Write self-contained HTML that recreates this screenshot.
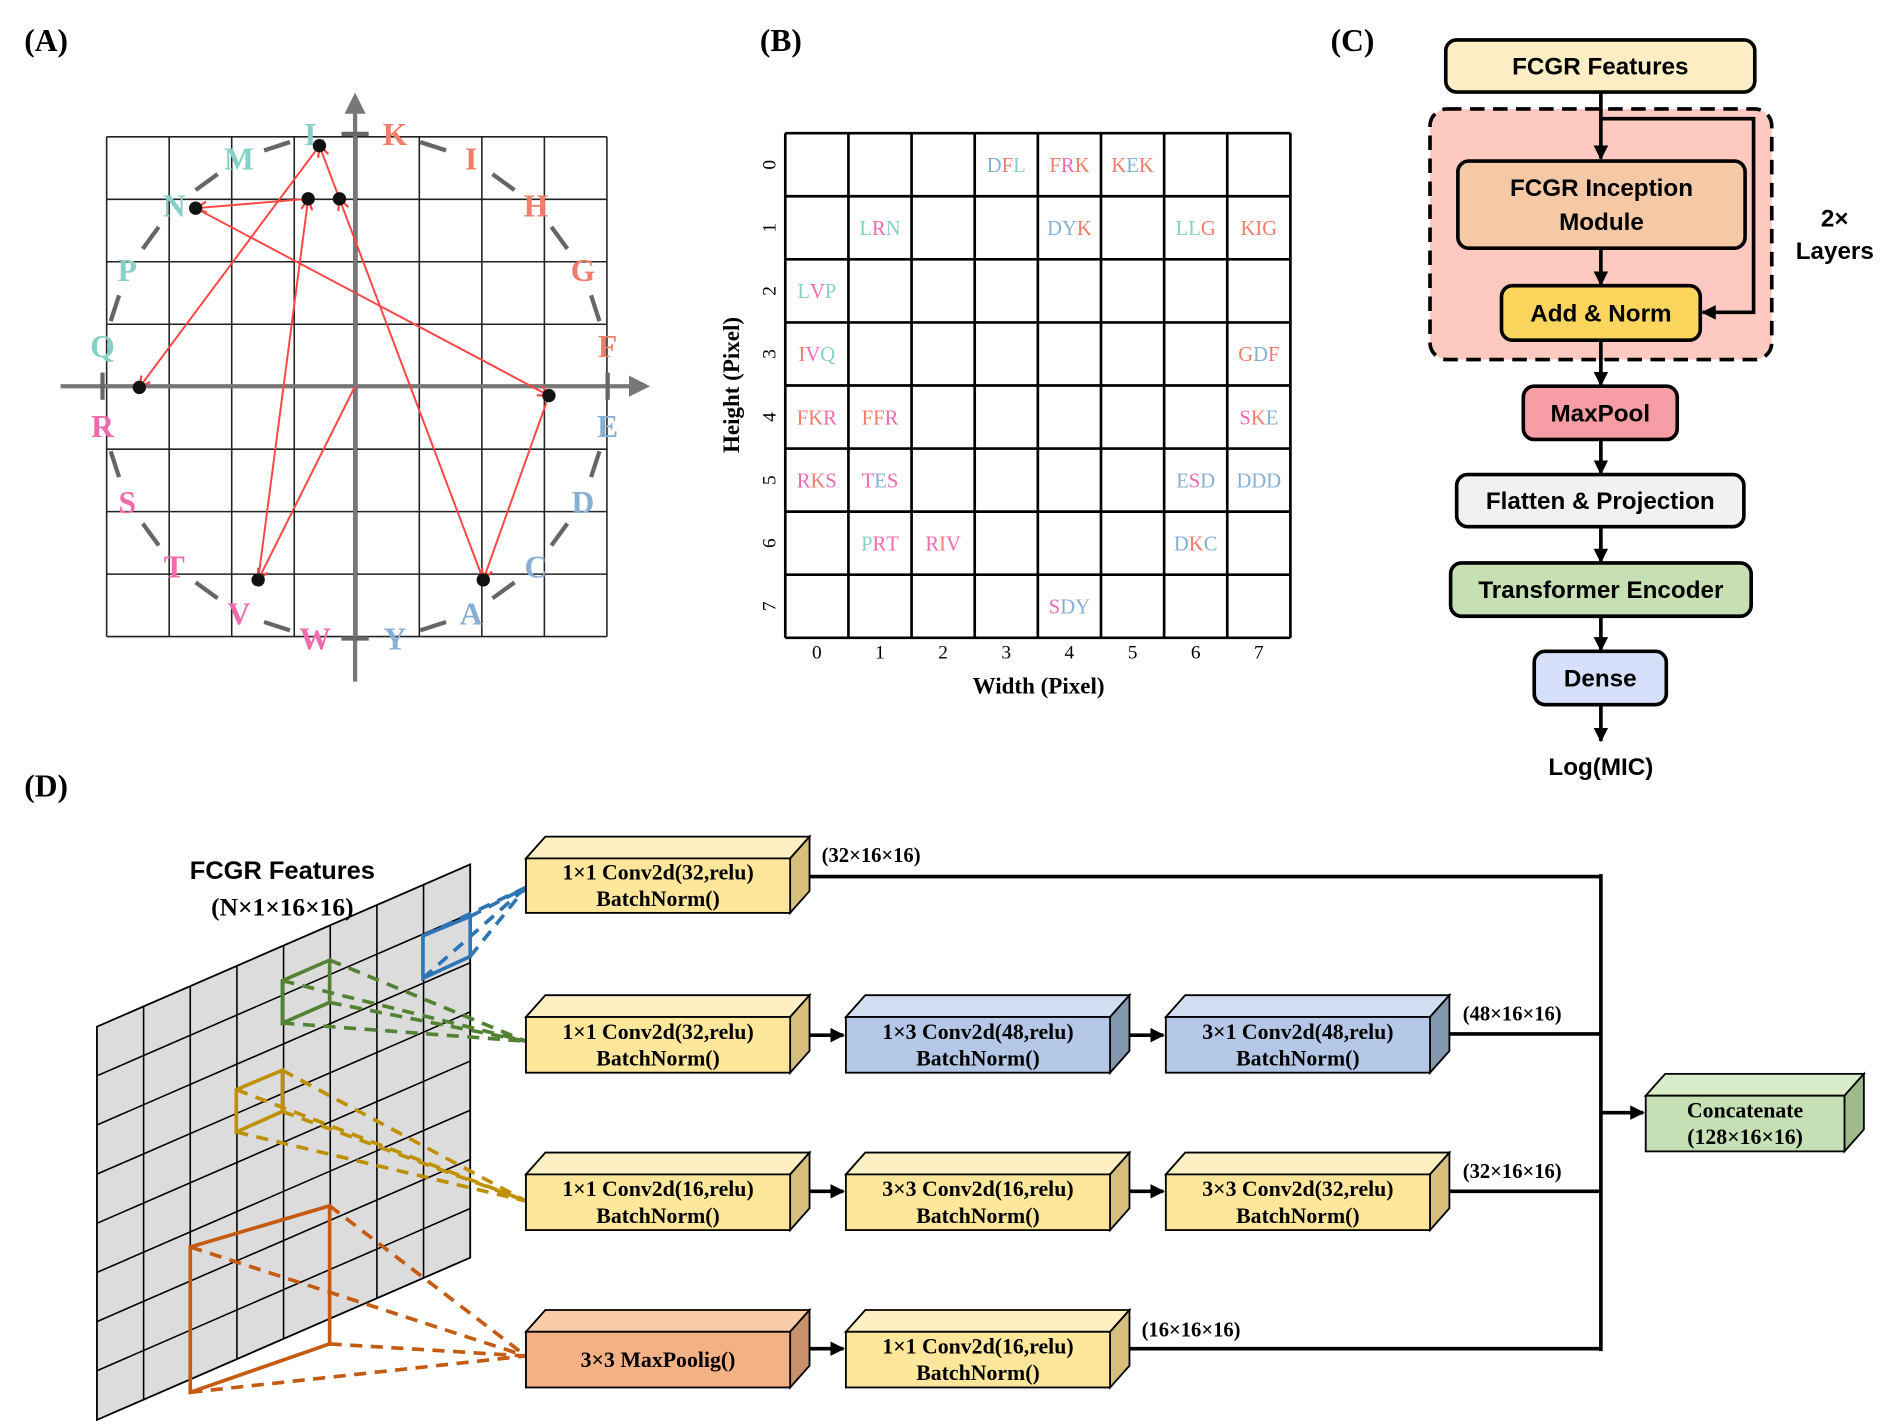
<!DOCTYPE html>
<html><head><meta charset="utf-8"><style>
html,body{margin:0;padding:0;background:#fff;}
svg{display:block;}
.ser{font-family:"Liberation Serif",serif;}
.san{font-family:"Liberation Sans",sans-serif;}
</style></head><body>
<svg id="fig" width="1899" height="1425" viewBox="0 0 1567 1177" preserveAspectRatio="none" xmlns="http://www.w3.org/2000/svg">
<defs>
<marker id="ar" viewBox="0 0 10 10" refX="9" refY="5" markerWidth="7" markerHeight="7" orient="auto"><path d="M1,1 L9,5 L1,9" fill="none" stroke="#f44" stroke-width="1.6"/></marker>
<marker id="ab" viewBox="0 0 10 10" refX="9" refY="5" markerWidth="4" markerHeight="4" orient="auto"><path d="M0,0 L10,5 L0,10z" fill="#000"/></marker>
<marker id="ag" viewBox="0 0 10 10" refX="8" refY="5" markerWidth="5" markerHeight="5" orient="auto"><path d="M0,0 L10,5 L0,10z" fill="#777"/></marker>
</defs>
<g class="ser" font-weight="bold" font-size="26">
<text x="20" y="42">(A)</text>
<text x="627" y="42">(B)</text>
<text x="1098" y="42">(C)</text>
<text x="20" y="658">(D)</text>
</g>
<g id="pa"></g>
<g id="pb"></g>
<g id="pc"></g>
<g id="pd"></g>
</svg>
<script>
const NS="http://www.w3.org/2000/svg";
function mk(p,tag,at,txt){const e=document.createElementNS(NS,tag);for(const k in at)e.setAttribute(k,at[k]);if(txt!==undefined)e.textContent=txt;p.appendChild(e);return e;}
const COL={teal:"#86d0c6",sal:"#f07d6a",blue:"#86afd4",pink:"#f06aae"};
const letterGroup={L:"teal",M:"teal",N:"teal",P:"teal",Q:"teal",K:"sal",I:"sal",H:"sal",G:"sal",F:"sal",E:"blue",D:"blue",C:"blue",A:"blue",Y:"blue",W:"pink",V:"pink",T:"pink",S:"pink",R:"pink"};

// ---------- Panel A data ----------
const ringLetters=["K","I","H","G","F","E","D","C","A","Y","W","V","T","S","R","Q","P","N","M","L"];
const pathPoints=[[0,0],[-1.55,-3.1],[-0.75,3.0],[-2.55,2.85],[3.1,-0.15],[2.05,-3.1],[-0.25,3.0],[-0.57,3.85],[-3.45,-0.02]];
const pa=document.getElementById('pa');
const AX={cx:293,cy:319,u:51.6,x0:88,y0:113,n:8};
function ax(x){return AX.cx+x*AX.u;} function ay(y){return AX.cy-y*AX.u;}
for(let i=0;i<=AX.n;i++){
 const l=mk(pa,'line',{x1:AX.x0+i*AX.u,y1:AX.y0,x2:AX.x0+i*AX.u,y2:AX.y0+8*AX.u,stroke:"#222","stroke-width":1.3});
 
 const h=mk(pa,'line',{x1:AX.x0,y1:AX.y0+i*AX.u,x2:AX.x0+8*AX.u,y2:AX.y0+i*AX.u,stroke:"#222","stroke-width":1.3});
 
}
let e=mk(pa,'line',{x1:50,y1:319,x2:533,y2:319,stroke:"#777","stroke-width":3.5,"marker-end":"url(#ag)"});

e=mk(pa,'line',{x1:293,y1:563,x2:293,y2:80,stroke:"#777","stroke-width":3.5,"marker-end":"url(#ag)"});

const R=211;
const lp=ringLetters.map((c,i)=>{const a=(-90+9+i*18)*Math.PI/180;return [AX.cx+R*Math.cos(a),AX.cy+R*Math.sin(a)];});
for(let i=0;i<lp.length;i++){
 const p=lp[i],q=lp[(i+1)%lp.length];
 const s=mk(pa,'line',{x1:p[0]+(q[0]-p[0])*0.33,y1:p[1]+(q[1]-p[1])*0.33,x2:p[0]+(q[0]-p[0])*0.67,y2:p[1]+(q[1]-p[1])*0.67,stroke:"#666","stroke-width":3.5});
 
}
ringLetters.forEach((c,i)=>{
 const t=mk(pa,'text',{x:lp[i][0],y:lp[i][1]+9,"text-anchor":"middle","font-size":26,"font-weight":"bold",fill:COL[letterGroup[c]],class:"ser"},c);
 
});
for(let i=0;i<pathPoints.length-1;i++){
 const a=pathPoints[i],b=pathPoints[i+1];
 const l=mk(pa,'line',{x1:ax(a[0]),y1:ay(a[1]),x2:ax(b[0]),y2:ay(b[1]),stroke:"#f44","stroke-width":1.6,"marker-end":"url(#ar)"});
 
}
pathPoints.slice(1).forEach(p=>{
 const c=mk(pa,'circle',{cx:ax(p[0]),cy:ay(p[1]),r:5.5,fill:"#111"});
 
});

// ---------- Panel B data ----------
const cellRows=[0,0,0,1,1,1,1,2,3,3,4,4,4,5,5,5,5,6,6,6,7];
const cellCols=[3,4,5,1,4,6,7,0,0,7,0,1,7,0,1,6,7,1,2,6,4];
const cellWords=["DFL","FRK","KEK","LRN","DYK","LLG","KIG","LVP","IVQ","GDF","FKR","FFR","SKE","RKS","TES","ESD","DDD","PRT","RIV","DKC","SDY"];
const tickLabels=["0","1","2","3","4","5","6","7"];
const pb=document.getElementById('pb');
const BX={x0:648,y0:110,c:52.1};
for(let i=0;i<=8;i++){
 let l=mk(pb,'line',{x1:BX.x0+i*BX.c,y1:BX.y0,x2:BX.x0+i*BX.c,y2:BX.y0+8*BX.c,stroke:"#000","stroke-width":2.2});
 
 l=mk(pb,'line',{x1:BX.x0,y1:BX.y0+i*BX.c,x2:BX.x0+8*BX.c,y2:BX.y0+i*BX.c,stroke:"#000","stroke-width":2.2});
 
}
cellWords.forEach((w,i)=>{
 const t=mk(pb,'text',{x:BX.x0+(cellCols[i]+0.5)*BX.c,y:BX.y0+(cellRows[i]+0.5)*BX.c+6,"text-anchor":"middle","font-size":17,class:"ser"});
 
 for(const ch of w){mk(t,'tspan',{fill:COL[letterGroup[ch]]},ch);}
});
tickLabels.forEach((s,i)=>{
 let t=mk(pb,'text',{x:BX.x0+(i+0.5)*BX.c,y:544,"text-anchor":"middle","font-size":16,class:"ser"},s);
 
 const y=BX.y0+(i+0.5)*BX.c;
 t=mk(pb,'text',{x:640,y:y,"text-anchor":"middle","font-size":16,class:"ser",transform:`rotate(-90 640 ${y})`},s);
 
});
e=mk(pb,'text',{x:857,y:573,"text-anchor":"middle","font-size":19,"font-weight":"bold",class:"ser"},"Width (Pixel)");

e=mk(pb,'text',{x:610,y:318,"text-anchor":"middle","font-size":19,"font-weight":"bold",class:"ser",transform:"rotate(-90 610 318)"},"Height (Pixel)");


// ---------- Panel C ----------
const pc=document.getElementById('pc');
e=mk(pc,'rect',{x:1180,y:90,width:282,height:207,rx:14,fill:"#fdc9c1",stroke:"#000","stroke-width":3,"stroke-dasharray":"12 7"});

function box(x,y,w,h,fill,lines,name){
 const r=mk(pc,'rect',{x,y,width:w,height:h,rx:9,fill,stroke:"#000","stroke-width":3});
 
 lines.forEach((s,i)=>{const t=mk(pc,'text',{x:x+w/2,y:y+h/2+7+(i-(lines.length-1)/2)*28,"text-anchor":"middle","font-size":20,"font-weight":"bold",class:"san"},s);
 });
}
function arr(x1,y1,x2,y2,name){const l=mk(pc,'line',{x1,y1,x2,y2,stroke:"#000","stroke-width":3,"marker-end":"url(#ab)"});}
arr(1321,76,1321,131,'arrow-into-inception');
e=mk(pc,'polyline',{points:"1321,98 1447,98 1447,258 1405,258",fill:"none",stroke:"#000","stroke-width":3,"marker-end":"url(#ab)"});

arr(1321,205,1321,235,'arrow-to-add-norm');
arr(1321,281,1321,318,'arrow-to-maxpool');
arr(1321,363,1321,391,'arrow-to-flatten');
arr(1321,435,1321,464,'arrow-to-transformer');
arr(1321,509,1321,537,'arrow-to-dense');
arr(1321,582,1321,612,'arrow-to-output');
box(1193,33,255,43,"#fdedc4",["FCGR Features"],'fcgr-features-box');
box(1203,133,237,72,"#f5c8a6",["FCGR Inception","Module"],'inception-module-box');
box(1239,236,164,45,"#fcd65c",["Add & Norm"],'add-norm-box');
box(1257,319,127,44,"#f79da6",["MaxPool"],'maxpool-box');
box(1202,392,237,43,"#f1f1f1",["Flatten & Projection"],'flatten-projection-box');
box(1197,465,248,44,"#c6e0b3",["Transformer Encoder"],'transformer-encoder-box');
box(1266,538,109,44,"#d6e0fa",["Dense"],'dense-box');
e=mk(pc,'text',{x:1321,y:640,"text-anchor":"middle","font-size":20,"font-weight":"bold",class:"san"},"Log(MIC)");

e=mk(pc,'text',{x:1514,y:187,"text-anchor":"middle","font-size":20,"font-weight":"bold",class:"san"},"2×");

e=mk(pc,'text',{x:1514,y:214,"text-anchor":"middle","font-size":20,"font-weight":"bold",class:"san"},"Layers");


// ---------- Panel D ----------
const pd=document.getElementById('pd');
function P(u,v){return [80+u*38.5,848-u*16.75+v*40.6];}
const cells=mk(pd,'g',{});

mk(cells,'polygon',{points:[P(0,0),P(8,0),P(8,8),P(0,8)].map(p=>p.join(',')).join(' '),fill:"#dcdcdc",stroke:"#000","stroke-width":1.5});
for(let i=1;i<8;i++){
 mk(cells,'line',{x1:P(i,0)[0],y1:P(i,0)[1],x2:P(i,8)[0],y2:P(i,8)[1],stroke:"#000","stroke-width":1.3});
 mk(cells,'line',{x1:P(0,i)[0],y1:P(0,i)[1],x2:P(8,i)[0],y2:P(8,i)[1],stroke:"#000","stroke-width":1.3});
}
function kern(c,pts,tgt,name){
 const g=mk(pd,'g',{});
 pts.forEach(p=>mk(g,'line',{x1:p[0],y1:p[1],x2:tgt[0],y2:tgt[1],stroke:c,"stroke-width":3,"stroke-dasharray":"10 7"}));
 mk(g,'polygon',{points:pts.map(p=>p.join(',')).join(' '),fill:"none",stroke:c,"stroke-width":3});
}
kern("#2e75b6",[[349,773],[388,757],[388,790],[349,808]],[434,733],'kernel-1x1-blue');
kern("#548235",[[233,810],[272,793],[272,828],[233,845]],[434,860],'kernel-1x1-green');
kern("#bf9000",[[195,900],[233,884],[233,918],[195,935]],[434,992],'kernel-1x1-yellow');
kern("#c55a11",[[157,1030],[272,996],[272,1110],[157,1150]],[434,1120],'kernel-3x3-orange');
e=mk(pd,'text',{x:233,y:726,"text-anchor":"middle","font-size":21,"font-weight":"bold",class:"san"},"FCGR Features");

e=mk(pd,'text',{x:233,y:756,"text-anchor":"middle","font-size":21,"font-weight":"bold",class:"ser"},"(N×1×16×16)");

const PAL={y:["#fee69b","#fef0c2","#d6bf7c"],b:["#b4c7e7","#d2ddf1","#8497b0"],o:["#f4b183","#f8cba9","#c8916b"],g:["#c5e0b4","#d8ecc9","#9fbb8d"]};
function b3(x,y,w,h,pal,lines,name){
 const d=16,g=mk(pd,'g',{});
 mk(g,'polygon',{points:`${x},${y} ${x+d},${y-d-2} ${x+w+d},${y-d-2} ${x+w},${y}`,fill:pal[1],stroke:"#000","stroke-width":1.5});
 mk(g,'polygon',{points:`${x+w},${y} ${x+w+d},${y-d-2} ${x+w+d},${y+h-d-2} ${x+w},${y+h}`,fill:pal[2],stroke:"#000","stroke-width":1.5});
 mk(g,'rect',{x,y,width:w,height:h,fill:pal[0],stroke:"#000","stroke-width":1.5});
 lines.forEach((s,i)=>mk(g,'text',{x:x+w/2,y:y+h/2+6+(i-(lines.length-1)/2)*22,"text-anchor":"middle","font-size":18,"font-weight":"bold",class:"ser"},s));
}
function la(x1,y1,x2,y2,name,m){const l=mk(pd,'line',{x1,y1,x2,y2,stroke:"#000","stroke-width":3});if(m)l.setAttribute('marker-end','url(#ab)');}
la(668,724,1321,724,'branch1-line');
la(1321,722,1321,1116,'merge-line');
la(1196,854,1321,854,'branch2-line');
la(1196,984,1321,984,'branch3-line');
la(932,1114,1321,1114,'branch4-line');
la(1321,919,1356,919,'arrow-to-concat',1);
la(668,855,696,855,'arrow-b2-1',1);la(932,855,960,855,'arrow-b2-2',1);
la(668,984,696,984,'arrow-b3-1',1);la(932,984,960,984,'arrow-b3-2',1);
la(668,1114,696,1114,'arrow-b4-1',1);
b3(434,709,218,45,PAL.y,["1×1 Conv2d(32,relu)","BatchNorm()"],'conv1x1-32-box-a');
b3(434,840,218,46,PAL.y,["1×1 Conv2d(32,relu)","BatchNorm()"],'conv1x1-32-box-b');
b3(698,840,218,46,PAL.b,["1×3 Conv2d(48,relu)","BatchNorm()"],'conv1x3-48-box');
b3(962,840,218,46,PAL.b,["3×1 Conv2d(48,relu)","BatchNorm()"],'conv3x1-48-box');
b3(434,970,218,46,PAL.y,["1×1 Conv2d(16,relu)","BatchNorm()"],'conv1x1-16-box-a');
b3(698,970,218,46,PAL.y,["3×3 Conv2d(16,relu)","BatchNorm()"],'conv3x3-16-box');
b3(962,970,218,46,PAL.y,["3×3 Conv2d(32,relu)","BatchNorm()"],'conv3x3-32-box');
b3(434,1100,218,46,PAL.o,["3×3 MaxPoolig()"],'maxpool-3x3-box');
b3(698,1100,218,46,PAL.y,["1×1 Conv2d(16,relu)","BatchNorm()"],'conv1x1-16-box-b');
b3(1358,905,164,46,PAL.g,["Concatenate","(128×16×16)"],'concatenate-box');
[["(32×16×16)",678,712],["(48×16×16)",1207,843],["(32×16×16)",1207,973],["(16×16×16)",942,1104]].forEach(a=>{
 const t=mk(pd,'text',{x:a[1],y:a[2],"font-size":17,"font-weight":"bold",class:"ser"},a[0]);
 
});
</script>
</body></html>
